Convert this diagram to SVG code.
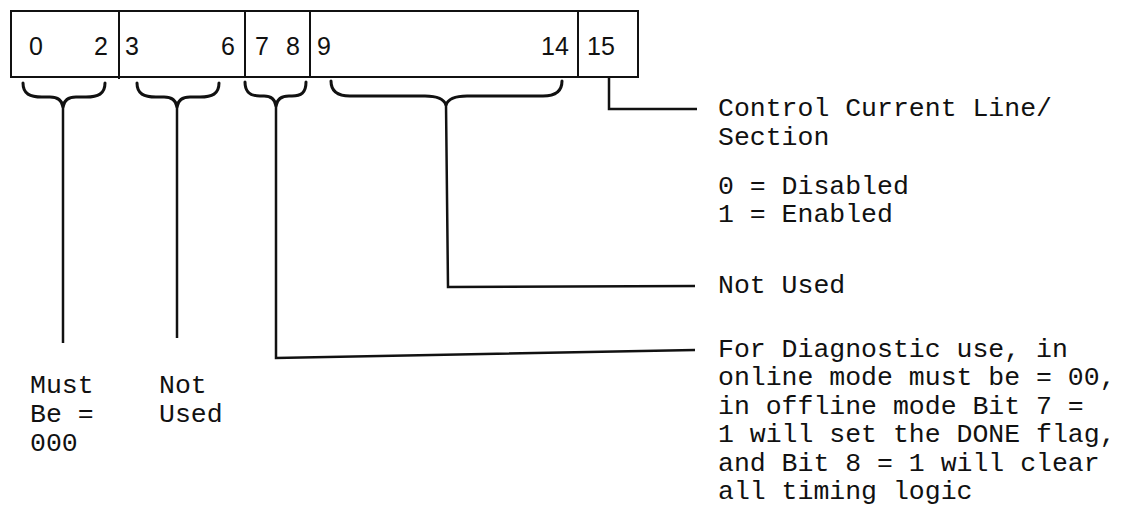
<svg xmlns="http://www.w3.org/2000/svg" width="1132" height="529" viewBox="0 0 1132 529">
<style>
.box{fill:none;stroke:#111;stroke-width:2}
.brace{fill:none;stroke:#111;stroke-width:3;stroke-linecap:round;stroke-linejoin:round}
.conn{fill:none;stroke:#111;stroke-width:2.5;stroke-linejoin:miter}
.bit{font-family:"Liberation Sans",Arial,sans-serif;font-size:25px;fill:#111}
.lbl{font-family:"Liberation Mono","Courier New",monospace;font-size:26.5px;fill:#111}
</style>
<rect width="1132" height="529" fill="#fff"/>
<g id="register">
  <rect class="box" x="11" y="11" width="627" height="66"/>
  <line class="box" x1="119" y1="11" x2="119" y2="79"/>
  <line class="box" x1="245" y1="11" x2="245" y2="77"/>
  <line class="box" x1="310" y1="11" x2="310" y2="77"/>
  <line class="box" x1="578" y1="11" x2="578" y2="77"/>
  <text class="bit" x="29" y="55">0</text>
  <text class="bit" x="94" y="55">2</text>
  <text class="bit" x="125" y="55">3</text>
  <text class="bit" x="221" y="55">6</text>
  <text class="bit" x="255" y="55">7</text>
  <text class="bit" x="286" y="55">8</text>
  <text class="bit" x="317" y="55">9</text>
  <text class="bit" x="541" y="55">14</text>
  <text class="bit" x="587" y="55">15</text>
</g>
<g id="brace-0-2">
  <path class="brace" d="M23,83 C23,94 30,97 42,97 L50,97 C57,97 62,100 63,107 C64,100 69,97 76,97 L86,97 C98,97 105,94 105,83"/>
</g>
<g id="brace-3-6">
  <path class="brace" d="M137,83 C137,94 144,97 156,97 L164,97 C171,97 176,100 177,107 C178,100 183,97 190,97 L200,97 C212,97 219,94 219,83"/>
</g>
<g id="brace-7-8">
  <path class="brace" d="M245,82 C245,93 251,96 260,96 L264,96 C271,96 275,99 276,106 C277,99 282,96 289,96 L292,96 C301,96 306,93 306,82"/>
</g>
<g id="brace-9-14">
  <path class="brace" d="M331,81 C331,92 338,96 350,96 L425,96 C437,96 444,99 446,105 C448,99 455,96 467,96 L543,96 C555,96 562,92 562,81"/>
</g>
<g id="connectors">
  <line class="conn" x1="63" y1="106" x2="63" y2="343"/>
  <line class="conn" x1="177" y1="106" x2="177" y2="338"/>
  <polyline class="conn" points="276,105 276,358 695,350"/>
  <polyline class="conn" points="446,104 448,287 695,286"/>
  <polyline class="conn" points="609,77 609,109 697,109"/>
</g>
<g id="label-15">
  <text class="lbl" x="718" y="116">Control Current Line/</text>
  <text class="lbl" x="718" y="145">Section</text>
  <text class="lbl" x="718" y="194">0 = Disabled</text>
  <text class="lbl" x="718" y="222">1 = Enabled</text>
</g>
<g id="label-9-14">
  <text class="lbl" x="718" y="293">Not Used</text>
</g>
<g id="label-7-8">
  <text class="lbl" x="718" y="357">For Diagnostic use, in</text>
  <text class="lbl" x="718" y="385">online mode must be = 00,</text>
  <text class="lbl" x="718" y="414">in offline mode Bit 7 =</text>
  <text class="lbl" x="718" y="442">1 will set the DONE flag,</text>
  <text class="lbl" x="718" y="471">and Bit 8 = 1 will clear</text>
  <text class="lbl" x="718" y="499">all timing logic</text>
</g>
<g id="label-0-2">
  <text class="lbl" x="30" y="393">Must</text>
  <text class="lbl" x="30" y="422">Be =</text>
  <text class="lbl" x="30" y="451">000</text>
</g>
<g id="label-3-6">
  <text class="lbl" x="159" y="393">Not</text>
  <text class="lbl" x="159" y="422">Used</text>
</g>
</svg>
